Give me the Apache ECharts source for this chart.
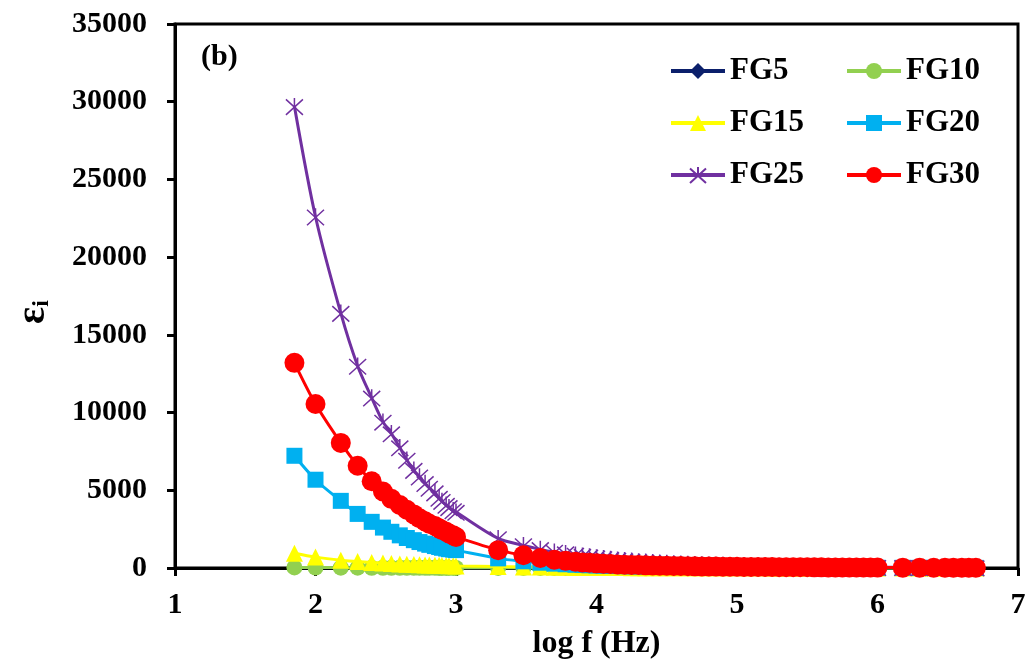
<!DOCTYPE html>
<html>
<head>
<meta charset="utf-8">
<script src="https://cdn.jsdelivr.net/npm/echarts@6/dist/echarts.min.js"></script>
<style>
  html, body { margin: 0; padding: 0; background: #fff; }
  #chart { width: 1035px; height: 668px; }
</style>
</head>
<body>
<div id="chart"></div>
<script>
// log f (Hz) values shared by all samples
const logF = [
  1.85, 2.00, 2.18, 2.30, 2.40, 2.48, 2.54, 2.60, 2.65, 2.70, 2.74, 2.78, 2.81, 2.85, 2.88, 2.90, 2.93, 2.95, 2.98, 3.00,
  3.30, 3.48, 3.60, 3.70, 3.78, 3.85, 3.90, 3.95,
  4.00, 4.05, 4.10, 4.15, 4.20, 4.25, 4.30, 4.35, 4.40, 4.45, 4.50, 4.55, 4.60, 4.65, 4.70, 4.75, 4.80, 4.85, 4.90, 4.95,
  5.00, 5.05, 5.10, 5.15, 5.20, 5.25, 5.30, 5.35, 5.40, 5.45, 5.50, 5.55, 5.60, 5.65, 5.70, 5.75, 5.80, 5.85, 5.90, 5.95, 6.00,
  6.18, 6.30, 6.40, 6.48, 6.54, 6.60, 6.65, 6.70
]

const fg5 = [
  25, 19, 15, 12, 10, 9, 8, 8, 7, 7, 6, 6, 6, 5, 5, 5, 5, 5, 4, 4,
  3, 3, 2, 2, 2, 2, 2, 2,
  2, 2, 2, 2, 1, 1, 1, 1, 1, 1, 1, 1, 1, 1, 1, 1, 1, 1, 1, 1,
  1, 1, 1, 1, 1, 1, 1, 1, 1, 1, 1, 1, 1, 1, 1, 1, 1, 1, 1, 1, 1,
  1, 1, 1, 1, 1, 1, 1, 1
]
const fg10 = [
  40, 30, 24, 20, 17, 15, 14, 13, 12, 11, 10, 10, 9, 9, 8, 8, 8, 7, 7, 7,
  5, 4, 4, 3, 3, 3, 3, 3,
  2, 2, 2, 2, 2, 2, 2, 2, 2, 2, 2, 2, 1, 1, 1, 1, 1, 1, 1, 1,
  1, 1, 1, 1, 1, 1, 1, 1, 1, 1, 1, 1, 1, 1, 1, 1, 1, 1, 1, 1, 1,
  1, 1, 1, 1, 1, 1, 1, 1
]
const fg15 = [
  950, 700, 500, 420, 360, 320, 290, 265, 245, 230, 215, 200, 190, 180, 170, 162, 155, 148, 140, 135,
  90, 70, 58, 50, 44, 40, 37, 34,
  32, 30, 28, 26, 25, 23, 22, 21, 20, 19, 18, 17, 16, 15, 14, 14, 13, 12, 12, 11,
  11, 10, 10, 9, 9, 8, 8, 8, 7, 7, 7, 6, 6, 6, 6, 5, 5, 5, 5, 5, 5,
  5, 4, 4, 4, 3, 3, 3, 3
]
const fg20 = [
  7220, 5680, 4320, 3480, 2970, 2600, 2330, 2100, 1930, 1790, 1670, 1570, 1490, 1410, 1350, 1300, 1250, 1210, 1180, 1150,
  620, 430, 340, 280, 240, 210, 190, 175,
  160, 147, 135, 125, 115, 107, 100, 93, 87, 81, 76, 71, 67, 63, 59, 55, 52, 49, 46, 43,
  41, 39, 37, 35, 33, 31, 30, 28, 27, 25, 24, 23, 22, 21, 20, 19, 18, 17, 16, 16, 15,
  13, 12, 11, 10, 10, 9, 9, 8
]
const fg25 = [
  29700, 22600, 16400, 13000, 10950, 9400, 8650, 7750, 6950, 6300, 5870, 5450, 5150, 4850, 4500, 4300, 4050, 3900, 3700, 3600,
  1900, 1450, 1200, 1030, 930, 840, 770, 720,
  660, 610, 560, 520, 480, 445, 410, 380, 350, 325, 300, 280, 260, 242, 225, 210, 195, 183, 172, 160,
  150, 142, 135, 127, 120, 114, 108, 102, 97, 92, 88, 84, 80, 76, 72, 68, 65, 61, 58, 55, 52,
  45, 40, 36, 33, 30, 28, 26, 24
]
const fg30 = [
  13200, 10550, 8050, 6580, 5580, 4920, 4450, 4050, 3750, 3450, 3200, 3000, 2850, 2700, 2550, 2450, 2330, 2220, 2100, 2000,
  1150, 820, 640, 530, 460, 400, 360, 330,
  300, 275, 250, 232, 215, 200, 185, 172, 160, 150, 140, 131, 122, 115, 108, 102, 96, 90, 85, 80,
  76, 72, 68, 64, 61, 58, 55, 52, 50, 47, 45, 43, 41, 39, 37, 35, 34, 32, 31, 29, 28,
  24, 21, 19, 17, 16, 15, 14, 13
]

const seriesNames = ['FG5', 'FG10', 'FG15', 'FG20', 'FG25', 'FG30']
const seriesValues = [fg5, fg10, fg15, fg20, fg25, fg30]
const seriesColors = ['#0B1F6B', '#92D050', '#FFFF00', '#00B0F0', '#7030A0', '#FF0000']
const seriesSymbols = [
  'diamond',
  'circle',
  'triangle',
  'rect',
  'path://M0,0L10,10M10,0L0,10M5,-1L5,5',
  'circle'
]
const seriesSymbolSizes = [13, 16, 17, 16, 17, 20]

const serif = "'Liberation Serif', 'Times New Roman', serif"

const chart = echarts.init(document.getElementById('chart'))

const series = seriesNames.map((name, i) => {
  const isCross = i === 4
  return {
    name: name,
    type: 'line',
    smooth: 0.3,
    data: logF.map((x, k) => [x, seriesValues[i][k]]),
    symbol: seriesSymbols[i],
    symbolSize: seriesSymbolSizes[i],
    showAllSymbol: true,
    lineStyle: { color: seriesColors[i], width: 3 },
    itemStyle: isCross
      ? { color: 'rgba(0,0,0,0)', borderColor: seriesColors[i], borderWidth: 1.5 }
      : { color: seriesColors[i], borderWidth: 0 },
    emphasis: { disabled: true },
    z: 2 + i
  }
})

const legendText = {
  fontFamily: serif,
  fontWeight: 'bold',
  fontSize: 31,
  color: '#000',
  lineHeight: 32
}

const legendBase = {
  orient: 'vertical',
  top: 50,
  itemWidth: 54,
  itemHeight: 20,
  itemGap: 20,
  lineStyle: { width: 4 },
  textStyle: legendText
}

const option = {
  animation: false,
  backgroundColor: '#fff',
  grid: {
    left: 175,
    right: 17,
    top: 24,
    bottom: 100,
    show: true,
    borderColor: '#000',
    borderWidth: 3
  },
  legend: [
    Object.assign({ data: ['FG5', 'FG15', 'FG25'], left: 664 }, legendBase),
    Object.assign({ data: ['FG10', 'FG20', 'FG30'], left: 840 }, legendBase)
  ],
  xAxis: {
    type: 'value',
    min: 1,
    max: 7,
    interval: 1,
    name: 'log f (Hz)',
    nameLocation: 'middle',
    nameGap: 60,
    nameTextStyle: { fontFamily: serif, fontWeight: 'bold', fontSize: 32, color: '#000' },
    axisLine: { onZero: false, lineStyle: { color: '#000', width: 3 } },
    axisTick: { show: true, length: 8, lineStyle: { color: '#000', width: 3 } },
    axisLabel: { margin: 22, fontFamily: serif, fontWeight: 'bold', fontSize: 30, color: '#000' },
    splitLine: { show: false }
  },
  yAxis: {
    type: 'value',
    min: 0,
    max: 35000,
    interval: 5000,
    axisLine: { show: true, lineStyle: { color: '#000', width: 3 } },
    axisTick: { show: true, length: 8, lineStyle: { color: '#000', width: 3 } },
    axisLabel: {
      margin: 28,
      fontFamily: serif,
      fontWeight: 'bold',
      fontSize: 30,
      color: '#000',
      formatter: (v) => String(v)
    },
    splitLine: { show: false }
  },
  graphic: [
    {
      type: 'text',
      left: 201,
      top: 42,
      style: { text: '(b)', fontFamily: serif, fontWeight: 'bold', fontSize: 30, fill: '#000' }
    },
    {
      type: 'text',
      x: 34,
      y: 312,
      rotation: Math.PI / 2,
      style: {
        text: '{e|ε}{s|i}',
        align: 'center',
        verticalAlign: 'middle',
        rich: {
          e: { fontFamily: serif, fontWeight: 'bold', fontSize: 40, fill: '#000' },
          s: { fontFamily: serif, fontWeight: 'bold', fontSize: 24, fill: '#000', verticalAlign: 'bottom', padding: [16, 0, 0, 0] }
        }
      }
    }
  ],
  series: series
}

chart.setOption(option)
</script>
</body>
</html>
